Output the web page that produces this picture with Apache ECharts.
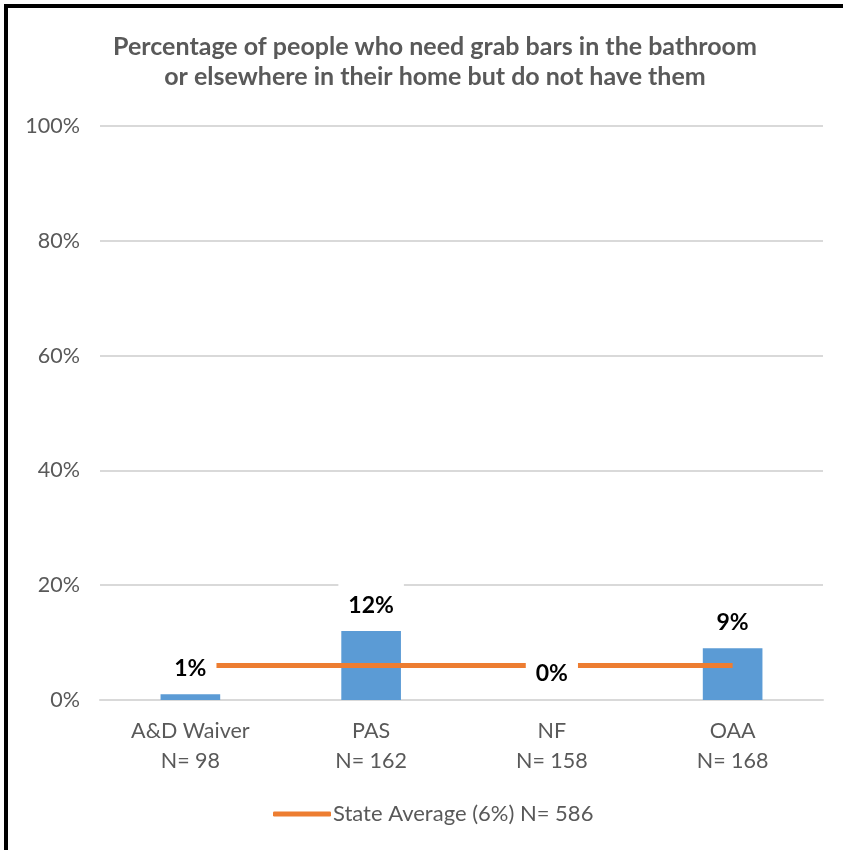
<!DOCTYPE html>
<html>
<head>
<meta charset="utf-8">
<script src="https://cdn.jsdelivr.net/npm/echarts@6/dist/echarts.min.js"></script>
<style>
html,body{margin:0;padding:0;background:#fff;}
#chart{width:843px;height:850px;}
</style>
</head>
<body>
<div id="chart"></div>
<script>
const titleText = 'Percentage of people who need grab bars in the bathroom\nor elsewhere in their home but do not have them';
const categories = ['A&D Waiver\nN= 98', 'PAS\nN= 162', 'NF\nN= 158', 'OAA\nN= 168'];
const programValues = [1, 12, 0, 9];
const stateAverageName = 'State Average (6%) N= 586';
const stateAverage = [6, 6, 6, 6];
const yTicks = [0, 20, 40, 60, 80, 100];

const FONT = 'Lato, "Open Sans", sans-serif';
const chart = echarts.init(document.getElementById('chart'), null, {renderer: 'canvas'});
chart.setOption({
  animation: false,
  backgroundColor: '#ffffff',
  title: {
    text: titleText,
    left: 430,
    textAlign: 'center',
    top: 27,
    textStyle: {color: '#595959', fontFamily: FONT, fontWeight: 'bold', fontSize: 25, lineHeight: 30}
  },
  graphic: [
    {type: 'rect', shape: {x: 4, y: 4, width: 843, height: 4}, style: {fill: '#000'}, z: 100},
    {type: 'rect', shape: {x: 4, y: 4, width: 4, height: 850}, style: {fill: '#000'}, z: 100}
  ],
  legend: {
    data: [stateAverageName],
    left: 268,
    top: 798,
    icon: 'roundRect',
    itemWidth: 58,
    itemHeight: 5,
    itemGap: 4,
    textStyle: {color: '#595959', fontFamily: FONT, fontSize: 22, padding: [0, 0, 0, -3]}
  },
  grid: {left: 100, right: 20, top: 126, bottom: 150, containLabel: false},
  xAxis: {
    type: 'category',
    data: categories,
    axisLine: {lineStyle: {color: '#d9d9d9', width: 2}},
    axisTick: {show: false},
    axisLabel: {color: '#595959', fontFamily: FONT, fontSize: 21.5, lineHeight: 30, margin: 16}
  },
  yAxis: {
    type: 'value',
    min: yTicks[0],
    max: yTicks[yTicks.length - 1],
    interval: 20,
    axisLine: {show: false},
    axisTick: {show: false},
    splitLine: {lineStyle: {color: '#d9d9d9', width: 2}},
    axisLabel: {color: '#595959', fontFamily: FONT, fontSize: 21.5, margin: 20, formatter: v => v + '%'}
  },
  series: [
    {
      name: 'Programs',
      type: 'bar',
      data: programValues,
      barWidth: '33%',
      z: 1,
      itemStyle: {color: '#5b9bd5'},
      silent: true
    },
    {
      name: stateAverageName,
      type: 'line',
      data: stateAverage,
      symbol: 'none',
      z: 2,
      lineStyle: {color: '#ed7d31', width: 5},
      itemStyle: {color: '#ed7d31'}
    },
    {
      name: 'labels',
      type: 'scatter',
      data: programValues,
      symbolSize: 0,
      z: 5,
      silent: true,
      itemStyle: {opacity: 1},
      label: {
        show: true,
        position: 'top',
        distance: 5,
        formatter: p => p.value + '%',
        color: '#000',
        fontFamily: FONT,
        fontWeight: 'bold',
        fontSize: 23,
        lineHeight: 24,
        opacity: 1,
        backgroundColor: '#fff',
        padding: [9, 10]
      }
    }
  ]
});
</script>
</body>
</html>
